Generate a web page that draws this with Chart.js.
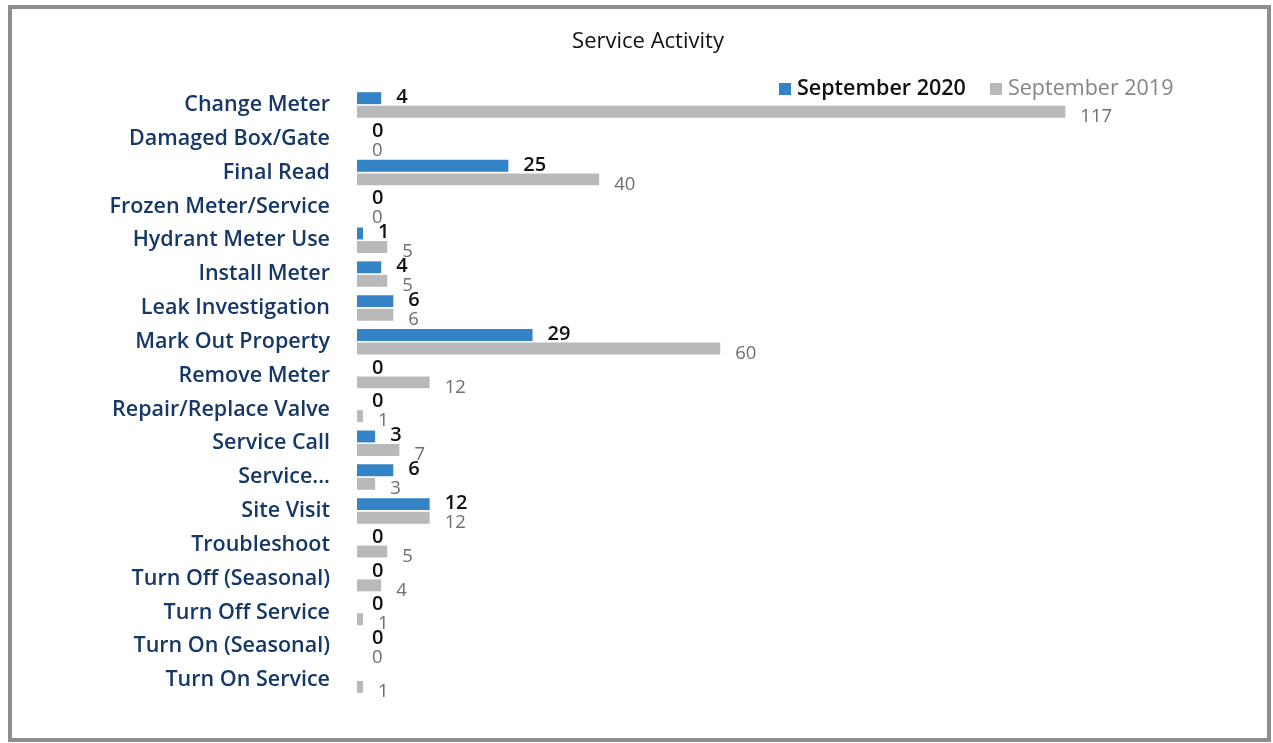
<!DOCTYPE html>
<html>
<head>
<meta charset="utf-8">
<title>Service Activity</title>
<script src="https://cdn.jsdelivr.net/npm/chart.js@4/dist/chart.umd.min.js"></script>
<style>
  html, body { margin: 0; padding: 0; background: #ffffff; }
  #wrap { position: relative; width: 1273px; height: 743px; overflow: hidden; }
  #frame {
    position: absolute; left: 8px; top: 5px; right: 2px; bottom: 1px;
    border: 4px solid #8e8e8e; box-sizing: border-box; pointer-events: none;
  }
  canvas { position: absolute; left: 0; top: 0; }
</style>
</head>
<body>
<div id="wrap">
  <canvas id="chart" width="1273" height="743"></canvas>
  <div id="frame"></div>
</div>
<script>
// Service activity counts by request type
const categories = [
  'Change Meter', 'Damaged Box/Gate', 'Final Read', 'Frozen Meter/Service',
  'Hydrant Meter Use', 'Install Meter', 'Leak Investigation', 'Mark Out Property',
  'Remove Meter', 'Repair/Replace Valve', 'Service Call', 'Service...',
  'Site Visit', 'Troubleshoot', 'Turn Off (Seasonal)', 'Turn Off Service',
  'Turn On (Seasonal)', 'Turn On Service'
];
const sep2020 = [4, 0, 25, 0, 1, 4, 6, 29, 0, 0, 3, 6, 12, 0, 0, 0, 0, null];
const sep2019 = [117, 0, 40, 0, 5, 5, 6, 60, 12, 1, 7, 3, 12, 5, 4, 1, 0, 1];
const seriesNames = ['September 2020', 'September 2019'];
const chartTitle = 'Service Activity';

const FONT = '"Open Sans", "Noto Sans", sans-serif';
const BLUE = '#3383c6';
const GRAY = '#b9b9b9';

// Value labels placed just past the end of each bar
const valueLabels = {
  id: 'valueLabels',
  afterDatasetsDraw(chart) {
    const ctx = chart.ctx;
    ctx.save();
    ctx.textAlign = 'left';
    ctx.textBaseline = 'middle';
    chart.data.datasets.forEach((ds, di) => {
      const meta = chart.getDatasetMeta(di);
      meta.data.forEach((bar, i) => {
        const v = ds.data[i];
        if (v === null || v === undefined) return;
        if (di === 0) {
          ctx.fillStyle = '#111111';
          ctx.font = '600 20px ' + FONT;
          ctx.fillText(String(v), bar.x + 15, bar.y - 1);
        } else {
          ctx.fillStyle = '#6e6e6e';
          ctx.font = '18.5px ' + FONT;
          ctx.fillText(String(v), bar.x + 15, bar.y + 5);
        }
      });
    });
    ctx.restore();
  }
};

// Title and top-right legend drawn over the plot area
const headerPlugin = {
  id: 'header',
  afterDraw(chart) {
    const ctx = chart.ctx;
    ctx.save();
    ctx.textBaseline = 'middle';
    ctx.textAlign = 'center';
    ctx.fillStyle = '#111111';
    ctx.font = '500 22px ' + FONT;
    ctx.fillText(chartTitle, 648, 42);

    const items = [
      { text: seriesNames[0], color: chart.data.datasets[0].backgroundColor, textColor: '#111111', weight: '600', x: 779 },
      { text: seriesNames[1], color: chart.data.datasets[1].backgroundColor, textColor: '#858585', weight: '400', x: 990 }
    ];
    ctx.textAlign = 'left';
    items.forEach(it => {
      ctx.fillStyle = it.color;
      ctx.fillRect(it.x, 83, 12, 12);
      ctx.fillStyle = it.textColor;
      ctx.font = it.weight + ' 21.5px ' + FONT;
      ctx.fillText(it.text, it.x + 18, 89);
    });
    ctx.restore();
  }
};

new Chart(document.getElementById('chart'), {
  type: 'bar',
  data: {
    labels: categories,
    datasets: [
      { label: seriesNames[0], data: sep2020, backgroundColor: BLUE },
      { label: seriesNames[1], data: sep2019, backgroundColor: GRAY }
    ]
  },
  options: {
    indexAxis: 'y',
    responsive: false,
    animation: false,
    layout: { padding: { top: 88, bottom: 46, right: 129, left: 0 } },
    datasets: { bar: { categoryPercentage: 0.8, barPercentage: 0.88 } },
    plugins: {
      legend: { display: false },
      title: { display: false },
      tooltip: { enabled: false }
    },
    scales: {
      x: { display: false, min: 0, max: 130 },
      y: {
        grid: { display: false, drawTicks: false },
        border: { display: false },
        ticks: {
          padding: 27,
          color: '#163868',
          font: { family: FONT, size: 21.5, weight: '600' },
          autoSkip: false
        },
        afterFit(scale) { scale.width = 357; }
      }
    }
  },
  plugins: [valueLabels, headerPlugin]
});
</script>
</body>
</html>
